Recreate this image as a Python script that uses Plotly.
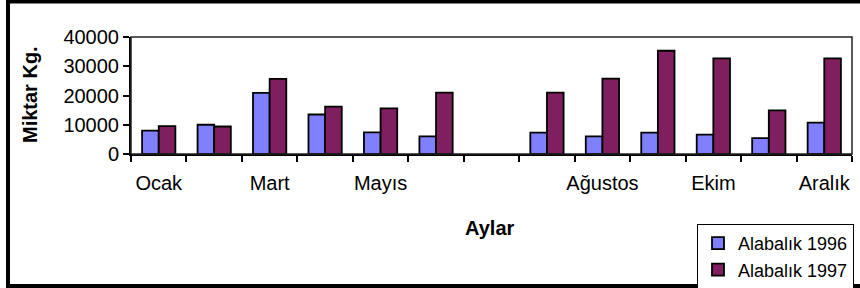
import plotly.graph_objects as go

# ---- data ----
months = ["Ocak", "Şubat", "Mart", "Nisan", "Mayıs", "Haziran", " ",
          "Temmuz", "Ağustos", "Eylül", "Ekim", "Kasım", "Aralık"]
tick_labels = ["Ocak", "", "Mart", "", "Mayıs", "", "",
               "", "Ağustos", "", "Ekim", "", "Aralık"]
alabalik_1996 = [8000, 10000, 20900, 13500, 7400, 6000, None,
                 7300, 6000, 7300, 6600, 5400, 10700]
alabalik_1997 = [9500, 9400, 25700, 16200, 15600, 21000, None,
                 21000, 25800, 35300, 32700, 14900, 32700]

# ---- geometry (pixels) ----
W, H = 860, 288
L, R, T, B = 131, 8, 37, 134
pw, ph = W - L - R, H - T - B

def px(x):
    return (x - L) / pw

def py(y):
    return (H - B - y) / ph

FONT = "Arial, Liberation Sans, sans-serif"

fig = go.Figure()
fig.add_trace(go.Bar(x=months, y=alabalik_1996, name="Alabalık 1996",
                     marker=dict(color="#8080FF", line=dict(color="black", width=1.8))))
fig.add_trace(go.Bar(x=months, y=alabalik_1997, name="Alabalık 1997",
                     marker=dict(color="#7F1F5F", line=dict(color="black", width=1.8))))

fig.update_layout(
    width=W, height=H,
    margin=dict(l=L, r=R, t=T, b=B, autoexpand=False),
    paper_bgcolor="white", plot_bgcolor="white",
    font=dict(family=FONT, size=20, color="black"),
    barmode="group", bargap=0.4, bargroupgap=0,
    showlegend=True,
    legend=dict(x=px(697), y=py(224), xanchor="left", yanchor="top",
                bgcolor="white", bordercolor="black", borderwidth=1,
                font=dict(family=FONT, size=18, color="black"),
                itemwidth=30, tracegroupgap=0,
                traceorder="normal"),
    xaxis=dict(type="category", categoryorder="array", categoryarray=months,
               tickmode="array", tickvals=months, ticktext=tick_labels,
               tickangle=0, ticklabelstandoff=10,
               tickson="boundaries", ticks="outside", ticklen=6, tickwidth=2,
               tickcolor="black", showline=True, linecolor="black", linewidth=2,
               showgrid=False, zeroline=False,
               tickfont=dict(family=FONT, size=20, color="black")),
    yaxis=dict(range=[0, 40000], tickmode="linear", tick0=0, dtick=10000,
               tickformat="d", ticks="outside", ticklen=6, tickwidth=2,
               tickcolor="black", showline=True, linecolor="black", linewidth=2,
               showgrid=False, zeroline=False,
               tickfont=dict(family=FONT, size=20, color="black")),
    shapes=[
        # plot area frame
        dict(type="rect", xref="paper", yref="paper", x0=0, x1=1, y0=0, y1=1,
             line=dict(color="#222222", width=1.5), layer="above"),
        # outer chart border
        dict(type="rect", xref="paper", yref="paper",
             x0=px(8), x1=px(866), y0=py(286), y1=py(1.5),
             line=dict(color="black", width=4)),
    ],
    annotations=[
        dict(text="<b>Miktar Kg.</b>", xref="paper", yref="paper",
             x=px(30), y=py(95), textangle=-90, showarrow=False,
             xanchor="center", yanchor="middle",
             font=dict(family=FONT, size=20, color="black")),
        dict(text="<b>Aylar</b>", xref="paper", yref="paper",
             x=px(490), y=py(228), showarrow=False,
             xanchor="center", yanchor="middle",
             font=dict(family=FONT, size=20, color="black")),
    ],
)

fig.write_html("out.html",
               config={"displayModeBar": False},
               post_script="document.body.style.margin='0px';document.body.style.padding='0px';")
